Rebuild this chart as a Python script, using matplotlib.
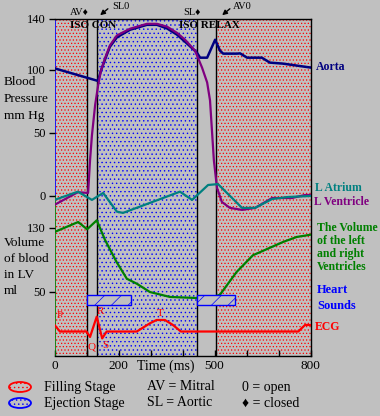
import matplotlib
matplotlib.use("Agg")
import matplotlib.pyplot as plt
from matplotlib.patches import Ellipse, Rectangle, FancyArrowPatch

# ---- data (time in ms) ----
phase_filling = [(0, 100), (506, 800)]
phase_ejection = [(134, 446)]
valve_times = [100, 134, 446, 506]

aorta_t = [0, 136, 145, 158, 173, 195, 236, 289, 320, 352, 383, 408, 445, 455, 477,
           502, 517, 527, 570, 580, 602, 648, 673, 714, 800]
aorta_p = [101, 91, 99, 108, 118, 125.5, 131.5, 135.4, 135.4, 132.5, 127.6, 122, 113.4,
           109.4, 109.4, 123.6, 115, 112.6, 112.6, 112.8, 109.4, 109.4, 105.5, 104.7, 101.6]

lv_t = [0, 73, 105, 111, 117, 127, 136, 145, 158, 173, 195, 236, 289, 320, 352, 383,
        408, 439, 461, 477, 486, 492, 498, 505, 508, 523, 548, 586, 627, 680, 742, 783, 800]
lv_p = [-7, 3, 2.4, 28, 48, 72, 87, 99, 109, 119, 127, 132.3, 136.2, 136.2, 133.9, 129,
        123.6, 115, 101.6, 89.8, 75.6, 52, 28.3, 12.6, 6.3, -4.7, -9.4, -11, -9.4, -1.6,
        -1.6, 0.8, 0.8]

la_t = [0, 73, 117, 152, 195, 214, 392, 430, 480, 511, 586, 627, 680, 730, 800]
la_p = [-3.1, 3.4, -3.1, 2.4, -12.4, -13.4, 3.4, -3.1, 8.7, 9.4, -9.4, -9.4, -2.4, -0.8, 0]

vol_t = [0, 74, 102, 132, 158, 194, 226, 257, 298, 361, 444, 495, 517, 569, 620, 714, 757, 800]
vol_ml = [125, 137.5, 128.4, 139.6, 115, 87.5, 66.6, 60.4, 50, 43.8, 42.5, 43.8, 46.6,
          75, 95.9, 112.5, 118.8, 121.6]

ecg_t = [0, 17, 100, 111, 132, 149, 163, 257, 298, 319, 345, 370, 395, 762, 772, 783, 800]
ecg_mv = [0.41, 0, 0, -0.34, 0.93, -0.43, 0, 0, 0.51, 0.72, 0.72, 0.41, 0, 0, 0.2, 0.41, 0.41]

sound_start = [100, 446]
sound_end = [240, 565]

pressure_ticks = [0, 50, 100, 140]
volume_ticks = [50, 130]
time_ticks = [0, 100, 200, 300, 400, 500, 600, 700, 800]
time_labels = ["0", "", "200", "", "", "500", "", "", "800"]

# ---- style ----
W, H = 380, 416
GREY = "#c0c0c0"
NAVY = "#000080"
PURPLE = "#800080"
TEAL = "#008080"
GREEN = "#008000"
RED = "#ff0000"
BLUE = "#0000ff"

plt.rcParams["font.family"] = ["Liberation Serif", "DejaVu Serif"]
plt.rcParams["hatch.linewidth"] = 0.5


def fx(x, y):
    return x / W, 1 - y / H


fig = plt.figure(figsize=(W / 100, H / 100), dpi=100)
fig.patch.set_facecolor(GREY)
rect = [54.5 / W, 1 - 356 / H, 256 / W, 337 / H]

# background axes: phases, valve lines, time axis
ax = fig.add_axes(rect)
ax.set_facecolor(GREY)
ax.set_xlim(0, 800)
ax.set_ylim(0, 1)
for a, b in phase_filling:
    ax.axvspan(a, b, facecolor=GREY, edgecolor=RED, hatch=".....", lw=0)
for a, b in phase_ejection:
    ax.axvspan(a, b, facecolor=GREY, edgecolor=BLUE, hatch="....", lw=0)
for t in valve_times:
    ax.axvline(t, color="black", lw=1)
ax.axvline(0, ymin=0.475, ymax=1, color=BLUE, lw=1.2)
ax.axvline(0, ymin=0, ymax=0.475, color=GREEN, lw=1.2)
for s in ["top", "right", "bottom"]:
    ax.spines[s].set_color("black")
    ax.spines[s].set_linewidth(1)
ax.spines["left"].set_visible(False)
ax.set_yticks([])
ax.set_xticks(time_ticks, time_labels)
ax.tick_params(axis="x", direction="in", length=4, width=1, pad=3, labelsize=9.5)


def overlay(ylim):
    a = fig.add_axes(rect, sharex=ax)
    a.patch.set_visible(False)
    for s in a.spines.values():
        s.set_visible(False)
    a.set_ylim(*ylim)
    a.tick_params(axis="x", bottom=False, labelbottom=False)
    a.tick_params(axis="y", direction="out", length=4, width=1, pad=2, labelsize=9)
    return a


axp = overlay((-160 / 1.264, 140))
axp.set_yticks(pressure_ticks)
axv = overlay((-30, 391.25))
axv.set_yticks(volume_ticks)
axe = overlay((-1.53, 19.53))
axe.set_yticks([])

axe.plot(ecg_t, ecg_mv, color=RED, lw=1.6)
for a, b in zip(sound_start, sound_end):
    axe.add_patch(Rectangle((a, 1.66), b - a, 0.62, facecolor=GREY, edgecolor=BLUE,
                            hatch="//", lw=1))
axv.plot(vol_t, vol_ml, color=GREEN, lw=1.6)
axp.plot(aorta_t, aorta_p, color=NAVY, lw=1.8)
axp.plot(lv_t, lv_p, color=PURPLE, lw=1.6)
axp.plot(la_t, la_p, color=TEAL, lw=1.6)

# ---- texts ----
def txt(x, y, s, **kw):
    kw.setdefault("va", "center")
    kw.setdefault("ha", "left")
    fig.text(*fx(x, y), s, **kw)


txt(70, 12.5, "AV\u2666", fontsize=7.5)
txt(183, 12.5, "SL\u2666", fontsize=7.5)
txt(112, 6.5, "SL0", fontsize=7.5)
txt(233, 6.5, "AV0", fontsize=7.5)
for tip, tail in [((98, 17), (110, 7)), ((220, 17), (232, 7))]:
    fig.add_artist(FancyArrowPatch(fx(*tail), fx(*tip), transform=fig.transFigure,
                                   arrowstyle="-|>", mutation_scale=7, color="black", lw=1))
txt(70, 26, "ISO CON", fontsize=8, fontweight="bold")
txt(179, 26, "ISO RELAX", fontsize=8, fontweight="bold")

for i, line in enumerate(["Blood", "Pressure", "mm Hg"]):
    txt(4, 82 + 17 * i, line, fontsize=9.5)
for i, line in enumerate(["Volume", "of blood", "in LV", "ml"]):
    txt(4, 243 + 16 * i, line, fontsize=9.5)

bold = dict(fontsize=8.5, fontweight="bold")
txt(316, 67, "Aorta", color=NAVY, **bold)
txt(315, 188, "L Atrium", color=TEAL, **bold)
txt(314, 202, "L Ventricle", color=PURPLE, **bold)
for i, line in enumerate(["The Volume", "of the left", "and right", "Ventricles"]):
    txt(317, 228 + 13 * i, line, color=GREEN, **bold)
txt(317, 290, "Heart", color=BLUE, fontsize=9, fontweight="bold")
txt(317, 306, "Sounds", color=BLUE, fontsize=9, fontweight="bold")
txt(315, 327, "ECG", color=RED, **bold)

for x, y, s in [(60, 316, "P"), (100, 311, "R"), (92, 347, "Q"), (105, 346, "S"), (160, 313, "T")]:
    txt(x, y, s, color=RED, fontsize=8, ha="center")

txt(166, 366, "Time (ms)", fontsize=10, ha="center")

# legend
for y, col in [(387, RED), (403, BLUE)]:
    fig.add_artist(Ellipse(fx(20, y), 22 / W, 10 / H, transform=fig.transFigure,
                           facecolor=GREY, edgecolor=col, hatch="....", lw=1.3))
txt(44, 387, "Filling Stage", fontsize=10)
txt(44, 403, "Ejection Stage", fontsize=10)
txt(147, 387, "AV = Mitral", fontsize=10)
txt(147, 403, "SL = Aortic", fontsize=10)
txt(242, 387, "0 = open", fontsize=10)
txt(242, 403, "\u2666 = closed", fontsize=10)

fig.savefig("out.png", dpi=100, facecolor=GREY)
